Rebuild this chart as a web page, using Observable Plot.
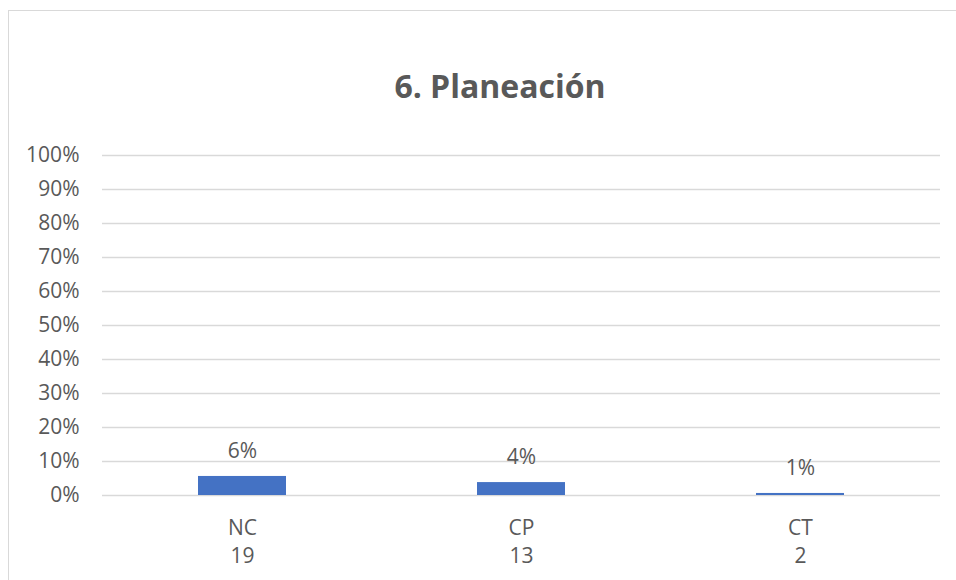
<!DOCTYPE html>
<html>
<head>
<meta charset="utf-8">
<script src="https://cdn.jsdelivr.net/npm/d3@7"></script>
<script src="https://cdn.jsdelivr.net/npm/@observablehq/plot@0.6"></script>
<style>
  html, body { margin: 0; padding: 0; background: #fff; }
  #chart {
    position: relative;
    width: 956px;
    height: 580px;
    overflow: hidden;
    font-family: "Open Sans", sans-serif;
    color: #595959;
  }
  #frame {
    position: absolute;
    left: 8px;
    top: 10px;
    width: 1000px;
    height: 700px;
    border: 1.5px solid #d9d9d9;
    box-sizing: border-box;
  }
  #title {
    position: absolute;
    left: 0;
    top: 70px;
    width: 1000px;
    text-align: center;
    font-size: 32px;
    line-height: 1;
    font-weight: 700;
    color: #595959;
    margin: 0;
  }
  #plot { position: absolute; left: 0; top: 0; }
</style>
</head>
<body>
<div id="chart">
  <div id="frame"></div>
  <div id="title">6. Planeación</div>
  <div id="plot"></div>
</div>
<script>
// Response categories, number of answers and share of the total
const categories = ["NC", "CP", "CT"];
const counts = [19, 13, 2];
const shares = [0.056, 0.038, 0.006];
const yTicks = [0, 0.1, 0.2, 0.3, 0.4, 0.5, 0.6, 0.7, 0.8, 0.9, 1];

const rows = categories.map((cat, i) => ({cat, count: counts[i], share: shares[i]}));
const countByCat = new Map(rows.map(d => [d.cat, d.count]));
const pct = d3.format(".0%");

const chart = Plot.plot({
  width: 956,
  height: 580,
  marginTop: 155,
  marginBottom: 85,
  marginLeft: 102,
  marginRight: 16,
  style: {
    fontFamily: "'Open Sans', sans-serif",
    fontSize: "21px",
    color: "#595959",
    background: "transparent",
    overflow: "visible"
  },
  x: {domain: categories, paddingInner: 0.685, paddingOuter: 0.3425, label: null},
  y: {domain: [0, 1], label: null},
  marks: [
    Plot.gridY(yTicks, {stroke: "#d9d9d9", strokeOpacity: 1, strokeWidth: 1.5}),
    Plot.axisY(yTicks, {tickFormat: pct, tickSize: 0, tickPadding: 23, label: null}),
    Plot.axisX({
      tickSize: 0,
      tickPadding: 19,
      lineHeight: 1.35,
      tickFormat: d => `${d}\n${countByCat.get(d)}`,
      label: null
    }),
    Plot.barY(rows, {x: "cat", y: "share", fill: "#4472c4"}),
    Plot.text(rows, {
      x: "cat",
      y: "share",
      text: d => pct(d.share),
      dy: -25,
      fill: "#595959",
      fontSize: 21
    })
  ]
});

document.getElementById("plot").appendChild(chart);
</script>
</body>
</html>
